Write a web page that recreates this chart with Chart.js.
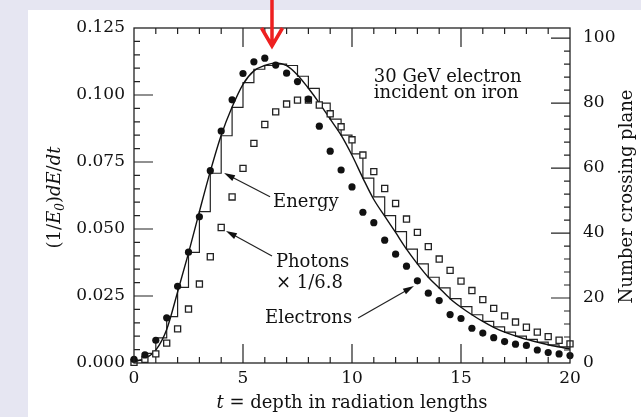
<!DOCTYPE html>
<html>
<head>
<meta charset="utf-8">
<title>30 GeV electron shower in iron</title>
<script src="https://cdn.jsdelivr.net/npm/chart.js@4.4.0/dist/chart.umd.min.js"></script>
<style>
  html, body { margin: 0; padding: 0; background: #e6e6f2; }
  #wrap { width: 641px; height: 417px; }
</style>
</head>
<body>
<div id="wrap"><canvas id="showerChart" width="641" height="417"></canvas></div>
<script>
// depth t (radiation lengths)
const depthT = [0, 0.5, 1, 1.5, 2, 2.5, 3, 3.5, 4, 4.5, 5, 5.5, 6, 6.5, 7, 7.5, 8, 8.5, 9, 9.5,
  10, 10.5, 11, 11.5, 12, 12.5, 13, 13.5, 14, 14.5, 15, 15.5, 16, 16.5, 17, 17.5, 18, 18.5, 19, 19.5, 20];

// (1/E0) dE/dt, smooth fit
const energyCurve = [0.0005, 0.0017, 0.0048, 0.0125, 0.0265, 0.041, 0.0565, 0.0715, 0.085, 0.0955,
  0.104, 0.109, 0.111, 0.112, 0.111, 0.1075, 0.1025, 0.097, 0.091, 0.085,
  0.0775, 0.069, 0.061, 0.0548, 0.0487, 0.0425, 0.037, 0.032, 0.028, 0.024,
  0.0208, 0.018, 0.0155, 0.0133, 0.0115, 0.0101, 0.0088, 0.0078, 0.0068, 0.006, 0.0052];

// (1/E0) dE/dt, simulated histogram (bin starting at t)
const energyHist = [0.001, 0.0036, 0.0094, 0.0173, 0.0282, 0.0413, 0.0565, 0.0708, 0.0848, 0.0954,
  0.1046, 0.1096, 0.111, 0.1115, 0.111, 0.107, 0.1025, 0.097, 0.091, 0.085,
  0.078, 0.069, 0.062, 0.055, 0.049, 0.0425, 0.037, 0.032, 0.028, 0.024,
  0.021, 0.018, 0.0155, 0.0135, 0.0115, 0.010, 0.0088, 0.0078, 0.0068, 0.006, 0.006];

// number crossing plane
const electronCount = [1.1, 2.5, 7.0, 13.9, 23.6, 34.1, 45.0, 59.2, 71.4, 81.0,
  89.1, 92.7, 93.8, 91.7, 89.2, 86.6, 81.2, 72.9, 65.2, 59.4,
  54.2, 46.4, 43.2, 37.8, 33.5, 29.8, 25.3, 21.5, 19.2, 14.9,
  13.7, 10.7, 9.2, 7.8, 6.6, 5.8, 5.4, 4.0, 3.2, 2.8, 2.3];
const photonCount = [0.2, 1.1, 2.8, 6.1, 10.5, 16.6, 24.3, 32.7, 41.7, 51.1,
  59.9, 67.6, 73.4, 77.3, 79.7, 80.9, 80.9, 79.4, 76.7, 72.7,
  68.7, 64.0, 58.9, 53.7, 49.1, 44.3, 40.2, 35.8, 32.0, 28.5,
  25.2, 22.3, 19.5, 16.8, 14.5, 12.6, 11.0, 9.5, 8.1, 7.0, 5.9];

// tick labels
const xTickValues = [0, 5, 10, 15, 20];
const leftTickValues = [0, 0.025, 0.05, 0.075, 0.1, 0.125];
const rightTickValues = [0, 20, 40, 60, 80, 100];

const SERIF = "'DejaVu Serif', 'Liberation Serif', serif";
const INK = '#111';

function pts(vals) {
  return depthT.map((t, i) => ({ x: t, y: vals[i] }));
}

function drawArrow(ctx, x1, y1, x2, y2) {
  const a = Math.atan2(y2 - y1, x2 - x1);
  const hl = 11, hw = 3.2;
  ctx.beginPath();
  ctx.moveTo(x1, y1);
  ctx.lineTo(x2 - Math.cos(a) * hl * 0.7, y2 - Math.sin(a) * hl * 0.7);
  ctx.stroke();
  ctx.beginPath();
  ctx.moveTo(x2, y2);
  ctx.lineTo(x2 - hl * Math.cos(a) + hw * Math.sin(a), y2 - hl * Math.sin(a) - hw * Math.cos(a));
  ctx.lineTo(x2 - hl * Math.cos(a) - hw * Math.sin(a), y2 - hl * Math.sin(a) + hw * Math.cos(a));
  ctx.closePath();
  ctx.fill();
}

// text made of roman / italic / subscript pieces
function richText(ctx, parts, x, y, align) {
  const fontOf = p => (p.i ? 'italic ' : '') + (p.sub ? 12 : 18) + 'px ' + SERIF;
  let w = 0;
  parts.forEach(p => { ctx.font = fontOf(p); w += ctx.measureText(p.t).width; });
  let cx = align === 'center' ? x - w / 2 : x;
  ctx.textAlign = 'left';
  ctx.textBaseline = 'alphabetic';
  parts.forEach(p => {
    ctx.font = fontOf(p);
    ctx.fillText(p.t, cx, y + (p.sub ? 4 : 0));
    cx += ctx.measureText(p.t).width;
  });
}

const decorPlugin = {
  id: 'decor',
  beforeDraw(chart) {
    const ctx = chart.ctx;
    ctx.save();
    ctx.fillStyle = '#e6e6f2';
    ctx.fillRect(0, 0, chart.width, chart.height);
    ctx.fillStyle = '#ffffff';
    ctx.fillRect(28, 10, chart.width - 28, chart.height - 10);
    ctx.restore();
  },
  afterDatasetsDraw(chart) {
    const { ctx, chartArea: a, scales: { x, y, y1 } } = chart;
    ctx.save();
    ctx.strokeStyle = '#222';
    ctx.fillStyle = INK;
    ctx.lineWidth = 1.3;

    // frame
    ctx.strokeRect(a.left, a.top, a.right - a.left, a.bottom - a.top);

    // inner tick marks
    ctx.lineWidth = 1.2;
    ctx.beginPath();
    for (let i = 1; i < 20; i++) {
      const px = x.getPixelForValue(i);
      const len = i % 5 === 0 ? 19 : 6;
      ctx.moveTo(px, a.bottom); ctx.lineTo(px, a.bottom - len);
      ctx.moveTo(px, a.top); ctx.lineTo(px, a.top + len);
    }
    for (let i = 1; i < 25; i++) {
      const py = y.getPixelForValue(i * 0.005);
      const len = i % 5 === 0 ? 19 : 6;
      ctx.moveTo(a.left, py); ctx.lineTo(a.left + len, py);
    }
    for (let i = 1; i <= 25; i++) {
      const py = y1.getPixelForValue(i * 4);
      const len = i % 5 === 0 ? 19 : 6;
      ctx.moveTo(a.right, py); ctx.lineTo(a.right - len, py);
    }
    ctx.stroke();

    // annotations, anchored in data units
    const P = (t, v) => [x.getPixelForValue(t), y.getPixelForValue(v)];
    ctx.font = '18px ' + SERIF;
    ctx.textAlign = 'left';
    ctx.textBaseline = 'alphabetic';
    let p = P(11.0, 0.1049); ctx.fillText('30 GeV electron', p[0], p[1]);
    p = P(11.0, 0.0989); ctx.fillText('incident on iron', p[0], p[1]);
    p = P(6.38, 0.0582); ctx.fillText('Energy', p[0], p[1]);
    p = P(6.51, 0.0358); ctx.fillText('Photons', p[0], p[1]);
    p = P(6.51, 0.028); ctx.fillText('\u00d7 1/6.8', p[0], p[1]);
    p = P(6.01, 0.0149); ctx.fillText('Electrons', p[0], p[1]);

    ctx.lineWidth = 1.2;
    let s = P(6.24, 0.062), e = P(4.13, 0.0709);
    drawArrow(ctx, s[0], s[1], e[0], e[1]);
    s = P(6.33, 0.0399); e = P(4.22, 0.0493);
    drawArrow(ctx, s[0], s[1], e[0], e[1]);
    s = P(10.28, 0.0168); e = P(12.84, 0.0287);
    drawArrow(ctx, s[0], s[1], e[0], e[1]);

    // axis titles
    richText(ctx, [{ t: 't', i: true }, { t: ' = depth in radiation lengths' }],
      (a.left + a.right) / 2, 408, 'center');

    ctx.save();
    ctx.translate(60, (a.top + a.bottom) / 2 + 2);
    ctx.rotate(-Math.PI / 2);
    richText(ctx, [{ t: '(1/' }, { t: 'E', i: true }, { t: '0', i: true, sub: true }, { t: ')' },
      { t: 'dE', i: true }, { t: '/' }, { t: 'dt', i: true }], 0, 0, 'center');
    ctx.restore();

    ctx.save();
    ctx.translate(632, (a.top + a.bottom) / 2 + 1);
    ctx.rotate(-Math.PI / 2);
    richText(ctx, [{ t: 'Number crossing plane' }], 0, 0, 'center');
    ctx.restore();

    // red marker above the shower maximum
    const rx = x.getPixelForValue(6.33);
    ctx.strokeStyle = '#ee2020';
    ctx.lineWidth = 3.5;
    ctx.beginPath();
    ctx.moveTo(rx, 0); ctx.lineTo(rx, 45);
    ctx.moveTo(rx - 10.5, 28); ctx.lineTo(rx, 46); ctx.lineTo(rx + 10.5, 28);
    ctx.stroke();
    ctx.restore();
  }
};

const tickFont = { family: SERIF, size: 17 };

new Chart(document.getElementById('showerChart'), {
  type: 'line',
  data: {
    datasets: [
      {
        label: 'Electrons',
        data: pts(electronCount),
        yAxisID: 'y1',
        showLine: false,
        pointStyle: 'circle',
        pointRadius: 3.6,
        pointBackgroundColor: '#111',
        pointBorderWidth: 0,
        clip: false
      },
      {
        label: 'Photons x 1/6.8',
        data: pts(photonCount),
        yAxisID: 'y1',
        showLine: false,
        pointStyle: 'rect',
        pointRadius: 4.3,
        pointBackgroundColor: '#fff',
        pointBorderColor: '#222',
        pointBorderWidth: 1.3,
        clip: false
      },
      {
        label: 'Energy',
        data: pts(energyCurve),
        yAxisID: 'y',
        borderColor: INK,
        borderWidth: 1.4,
        pointRadius: 0,
        cubicInterpolationMode: 'monotone'
      },
      {
        label: 'Energy (histogram)',
        data: pts(energyHist),
        yAxisID: 'y',
        borderColor: '#222',
        borderWidth: 1.2,
        pointRadius: 0,
        stepped: 'before'
      }
    ]
  },
  options: {
    responsive: false,
    animation: false,
    layout: { padding: { top: 28, left: 0, right: 0, bottom: 0 } },
    plugins: { legend: { display: false }, tooltip: { enabled: false } },
    scales: {
      x: {
        type: 'linear', position: 'bottom', min: 0, max: 20,
        grid: { display: false, drawTicks: false },
        border: { display: false },
        ticks: { font: tickFont, color: INK, padding: 5, maxRotation: 0 },
        afterBuildTicks: s => { s.ticks = xTickValues.map(v => ({ value: v })); },
        afterFit: s => { s.height = 54; }
      },
      y: {
        type: 'linear', position: 'left', min: 0, max: 0.125,
        grid: { display: false, drawTicks: false },
        border: { display: false },
        ticks: { font: tickFont, color: INK, padding: 9, callback: v => v.toFixed(3) },
        afterBuildTicks: s => { s.ticks = leftTickValues.map(v => ({ value: v })); },
        afterFit: s => { s.width = 134; }
      },
      y1: {
        type: 'linear', position: 'right', min: 0, max: 103.1,
        grid: { display: false, drawTicks: false },
        border: { display: false },
        ticks: { font: tickFont, color: INK, padding: 13 },
        afterBuildTicks: s => { s.ticks = rightTickValues.map(v => ({ value: v })); },
        afterFit: s => { s.width = 71; }
      }
    }
  },
  plugins: [decorPlugin]
});
</script>
</body>
</html>
